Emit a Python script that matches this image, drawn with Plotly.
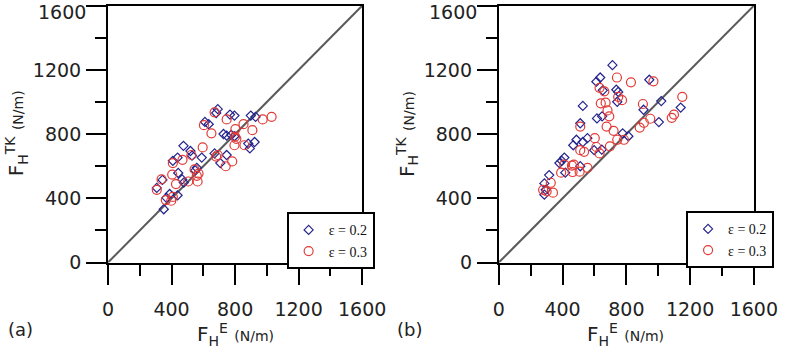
import plotly.graph_objects as go

# ---- data ----
diag = [0, 1600]

# panel (a)
a_e02_x = [691, 681, 768, 796, 899, 929, 610, 634, 727, 747, 776, 796, 883, 923, 893, 475, 519, 529,
           438, 408, 590, 671, 747, 707, 559, 549, 442, 467, 477, 343, 307, 438, 388, 351, 368]
a_e02_y = [956, 932, 922, 916, 916, 908, 876, 862, 801, 791, 795, 787, 741, 751, 711, 727, 695, 666,
           654, 634, 654, 680, 670, 620, 590, 574, 558, 518, 498, 515, 465, 419, 427, 332, 403]
a_e03_x = [671, 747, 604, 651, 853, 974, 1030, 802, 909, 808, 796, 859, 596, 525, 469, 681, 691, 741,
           782, 408, 545, 570, 404, 337, 428, 505, 564, 307, 364, 398, 408, 559, 800]
a_e03_y = [936, 892, 856, 805, 862, 892, 908, 831, 825, 771, 731, 731, 717, 670, 640, 660, 670, 600,
           630, 620, 580, 554, 548, 518, 489, 505, 505, 453, 389, 385, 409, 540, 785]

# panel (b)
b_e02_x = [713, 636, 612, 652, 944, 737, 749, 743, 1019, 527, 1141, 908, 616, 648, 511, 1004, 777, 813,
           487, 467, 556, 527, 598, 646, 411, 380, 395, 417, 511, 316, 286, 294, 286]
b_e02_y = [1230, 1153, 1127, 1073, 1139, 1077, 1063, 1002, 1006, 976, 966, 952, 898, 911, 868, 875, 805, 787,
           765, 731, 775, 751, 700, 704, 654, 620, 634, 560, 600, 545, 493, 453, 423]
b_e03_x = [741, 829, 970, 632, 662, 749, 773, 640, 670, 904, 1151, 682, 693, 511, 676, 720, 950, 910,
           884, 602, 511, 535, 612, 632, 743, 785, 697, 556, 507, 463, 459, 411, 391, 471, 326, 278,
           340, 300, 1099, 1085]
b_e03_y = [1153, 1123, 1129, 1089, 1067, 1033, 1012, 992, 996, 988, 1033, 948, 911, 847, 847, 821, 896, 871,
           841, 775, 700, 690, 720, 680, 765, 765, 724, 590, 566, 564, 604, 610, 560, 610, 497, 453,
           435, 443, 922, 902]

labels = ["\u03b5 = 0.2", "\u03b5 = 0.3"]
tick_vals = [0, 400, 800, 1200, 1600]
tick_text = ["0", "400", "800", "1200", "1600"]

# ---- style ----
BLUE = "#25258f"
RED = "#e23a36"
W, H = 800, 351

fig = go.Figure()

def add_panel(xs02, ys02, xs03, ys03, xa, ya, leg):
    fig.add_trace(go.Scatter(x=diag, y=diag, mode="lines", line=dict(color="#5a5a5a", width=2),
                             showlegend=False, xaxis=xa, yaxis=ya, hoverinfo="skip"))
    fig.add_trace(go.Scatter(x=xs02, y=ys02, mode="markers", name=labels[0],
                             marker=dict(symbol="diamond-open", size=7, color=BLUE, line=dict(width=1.2, color=BLUE)),
                             xaxis=xa, yaxis=ya, legend=leg))
    fig.add_trace(go.Scatter(x=xs03, y=ys03, mode="markers", name=labels[1],
                             marker=dict(symbol="circle-open", size=9, color=RED, line=dict(width=1.2, color=RED)),
                             xaxis=xa, yaxis=ya, legend=leg))

add_panel(a_e02_x, a_e02_y, a_e03_x, a_e03_y, "x", "y", "legend")
add_panel(b_e02_x, b_e02_y, b_e03_x, b_e03_y, "x2", "y2", "legend2")

def px(v):
    return v / W

def py(v):
    return (H - v) / H

TICKFONT = dict(family="DejaVu Sans", size=19, color="#222")
axis_common = dict(
    range=[0, 1600], tickvals=tick_vals,
    ticks="outside", ticklen=20, tickwidth=2, tickcolor="black",
    showline=True, linecolor="black", linewidth=2, mirror=True,
    showgrid=False, zeroline=False,
    minor=dict(dtick=200, ticks="outside", ticklen=11, tickwidth=2, tickcolor="black", showgrid=False),
    tickfont=TICKFONT,
)
x_common = dict(axis_common, ticktext=tick_text, ticklabelstandoff=9)
# top label of y drawn as annotation (it would sit at the page edge)
y_common = dict(axis_common, ticktext=tick_text[:-1] + [""], ticklabelstandoff=1)

ydom = [py(271), py(6)]
LEGFONT = dict(family="Liberation Serif", size=14, color="#111")
fig.update_layout(
    width=W, height=H, margin=dict(l=0, r=0, t=0, b=0),
    paper_bgcolor="white", plot_bgcolor="white",
    xaxis=dict(domain=[px(106), px(370)], anchor="y", **x_common),
    yaxis=dict(domain=ydom, anchor="x", **y_common),
    xaxis2=dict(domain=[px(512), px(777)], anchor="y2", **x_common),
    yaxis2=dict(domain=ydom, anchor="x2", **y_common),
    legend=dict(x=px(383), y=py(278), xanchor="right", yanchor="bottom",
                bgcolor="white", bordercolor="black", borderwidth=2,
                font=LEGFONT, tracegroupgap=0, itemwidth=30),
    legend2=dict(x=px(798), y=py(277), xanchor="right", yanchor="bottom",
                 bgcolor="white", bordercolor="black", borderwidth=2,
                 font=LEGFONT, tracegroupgap=0, itemwidth=30),
    showlegend=True,
)

title_font = dict(family="DejaVu Sans", size=20, color="#222")
xt = "F<sub>H</sub><sup>E</sup> <span style='font-size:14px'>(N/m)</span>"
yt = "F<sub>H</sub><sup>TK</sup> <span style='font-size:14px'>(N/m)</span>"
ann = [
    dict(text=xt, x=px(238), y=py(345), xref="paper", yref="paper", xanchor="center", yanchor="middle",
         showarrow=False, font=title_font),
    dict(text=xt, x=px(644), y=py(345), xref="paper", yref="paper", xanchor="center", yanchor="middle",
         showarrow=False, font=title_font),
    dict(text=yt, x=px(11), y=py(138), xref="paper", yref="paper", xanchor="center", yanchor="middle",
         textangle=-90, showarrow=False, font=title_font),
    dict(text=yt, x=px(417), y=py(138), xref="paper", yref="paper", xanchor="center", yanchor="middle",
         textangle=-90, showarrow=False, font=title_font),
    dict(text="(a)", x=px(0), y=py(340), xref="paper", yref="paper", xanchor="left", yanchor="middle",
         showarrow=False, font=dict(family="DejaVu Sans", size=18, color="#222")),
    dict(text="(b)", x=px(404), y=py(340), xref="paper", yref="paper", xanchor="left", yanchor="middle",
         showarrow=False, font=dict(family="DejaVu Sans", size=18, color="#222")),
    dict(text=tick_text[-1], x=px(84), y=1.0, xref="paper", yref="paper", xanchor="right", yanchor="top",
         showarrow=False, font=TICKFONT, borderpad=0),
    dict(text=tick_text[-1], x=px(490), y=1.0, xref="paper", yref="paper", xanchor="right", yanchor="top",
         showarrow=False, font=TICKFONT, borderpad=0),
]
fig.update_layout(annotations=ann)

fig.write_html("out.html")
